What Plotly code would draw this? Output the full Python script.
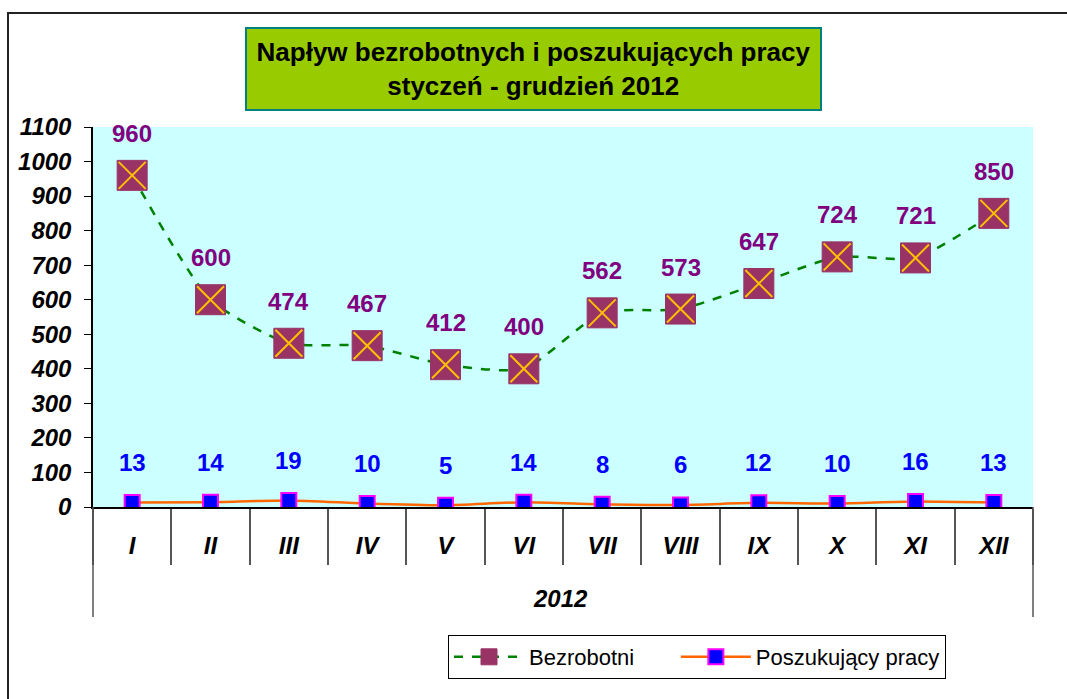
import plotly.graph_objects as go

# ── data ────────────────────────────────────────────────────────────────────
MONTHS = ["I", "II", "III", "IV", "V", "VI", "VII", "VIII", "IX", "X", "XI", "XII"]
BEZROBOTNI = [960, 600, 474, 467, 412, 400, 562, 573, 647, 724, 721, 850]
POSZUKUJACY = [13, 14, 19, 10, 5, 14, 8, 6, 12, 10, 16, 13]
YEAR = "2012"
TITLE = "Napływ bezrobotnych i poszukujących pracy<br>styczeń - grudzień 2012"

# ── style ───────────────────────────────────────────────────────────────────
W, H = 1067, 699
PL, PR, PT, PB = 93, 1033, 127, 507          # plot area in pixels
FONT = "Liberation Sans, Arial, sans-serif"
PLOT_BG = "#CCFFFF"
GREEN = "#008000"
PLUM = "#993366"
GOLD = "#FFC000"
PURPLE = "#800080"
ORANGE = "#FF6600"
BLUE = "#0000FF"
MAGENTA = "#FF00FF"
NBSP = "\u00a0"


def px(x):
    return (x - PL) / (PR - PL)


def py(y):
    return (PB - y) / (PB - PT)


x = list(range(len(MONTHS)))

fig = go.Figure()

fig.add_trace(go.Scatter(
    x=x, y=BEZROBOTNI, name="Bezrobotni" + NBSP * 6, mode="lines+markers",
    line=dict(color=GREEN, width=2.5, dash="dash", shape="spline", smoothing=0.6),
    marker=dict(symbol="square", size=30, color=PLUM, line=dict(color=PLUM, width=1)),
))
# gold cross drawn on top of the plum squares
fig.add_trace(go.Scatter(
    x=x, y=BEZROBOTNI, mode="markers", showlegend=False, hoverinfo="skip",
    marker=dict(symbol="x-thin", size=27, line=dict(color=GOLD, width=2)),
))
fig.add_trace(go.Scatter(
    x=x, y=POSZUKUJACY, name="Poszukujący pracy", mode="lines+markers",
    line=dict(color=ORANGE, width=2.5, shape="spline", smoothing=0.6),
    marker=dict(symbol="square", size=15, color=BLUE, line=dict(color=MAGENTA, width=2)),
))

annotations = []
for i, v in enumerate(BEZROBOTNI):
    annotations.append(dict(x=i, y=v, text=str(v), showarrow=False, yshift=42,
                            font=dict(family=FONT, size=24, color=PURPLE, weight="bold")))
for i, v in enumerate(POSZUKUJACY):
    annotations.append(dict(x=i, y=v, text=str(v), showarrow=False, yshift=40,
                            font=dict(family=FONT, size=24, color=BLUE, weight="bold")))

annotations.append(dict(
    xref="paper", yref="paper", x=px(533), y=py(69), xanchor="center", yanchor="middle",
    text="<b>" + TITLE + "</b>",
    showarrow=False, bgcolor="#99CC00", bordercolor="#008080", borderwidth=2,
    width=573, height=80, borderpad=0, align="center",
    font=dict(family=FONT, size=26, color="black"),
))
annotations.append(dict(
    xref="paper", yref="paper", x=px(560), y=py(598), xanchor="center", yanchor="middle",
    text="<b><i>" + YEAR + "</i></b>",
    showarrow=False, font=dict(family=FONT, size=24, color="black"),
))

shapes = [
    # outer chart border
    dict(type="rect", xref="paper", yref="paper", x0=px(8), x1=px(1090), y0=py(720), y1=py(13),
         line=dict(color="#222222", width=2), layer="below"),
    # outer category frame lines
    dict(type="line", xref="paper", yref="paper", x0=0, x1=0, y0=py(617), y1=0,
         line=dict(color="#555555", width=1.5)),
    dict(type="line", xref="paper", yref="paper", x0=1, x1=1, y0=py(617), y1=0,
         line=dict(color="#555555", width=1.5)),
]

fig.update_layout(
    width=W, height=H,
    margin=dict(l=PL, r=W - PR, t=PT, b=H - PB),
    paper_bgcolor="white", plot_bgcolor=PLOT_BG,
    font=dict(family=FONT, color="black"),
    annotations=annotations, shapes=shapes,
    legend=dict(orientation="h", x=px(448), y=py(635), xanchor="left", yanchor="top",
                bordercolor="black", borderwidth=1, bgcolor="white",
                font=dict(family=FONT, size=22, color="black"),
                itemwidth=70, tracegroupgap=0),
    showlegend=True,
)

fig.update_xaxes(
    range=[-0.5, len(MONTHS) - 0.5], automargin=False,
    tickvals=x, ticktext=MONTHS, ticks="",
    tickfont=dict(family=FONT, size=24, color="black", weight="bold", style="italic"),
    ticklabelstandoff=16,
    showline=True, linecolor="black", linewidth=1.5,
    showgrid=False, zeroline=False,
    minor=dict(tickvals=[i - 0.5 for i in range(len(MONTHS) + 1)], ticks="outside",
               ticklen=56, tickcolor="#555555", tickwidth=1.5, showgrid=False),
)
fig.update_yaxes(
    range=[0, 1100], dtick=100, ticks="outside", ticklen=7, tickcolor="black",
    automargin=False, ticklabelstandoff=8,
    tickfont=dict(family=FONT, size=24, color="black", weight="bold", style="italic"),
    showline=True, linecolor="black", linewidth=1.5,
    showgrid=False, zeroline=False,
)

# drop the browser's default body margin so the figure sits at the page corner
fig.write_html("out.html", config={"displayModeBar": False},
               post_script="document.body.style.margin='0';")
